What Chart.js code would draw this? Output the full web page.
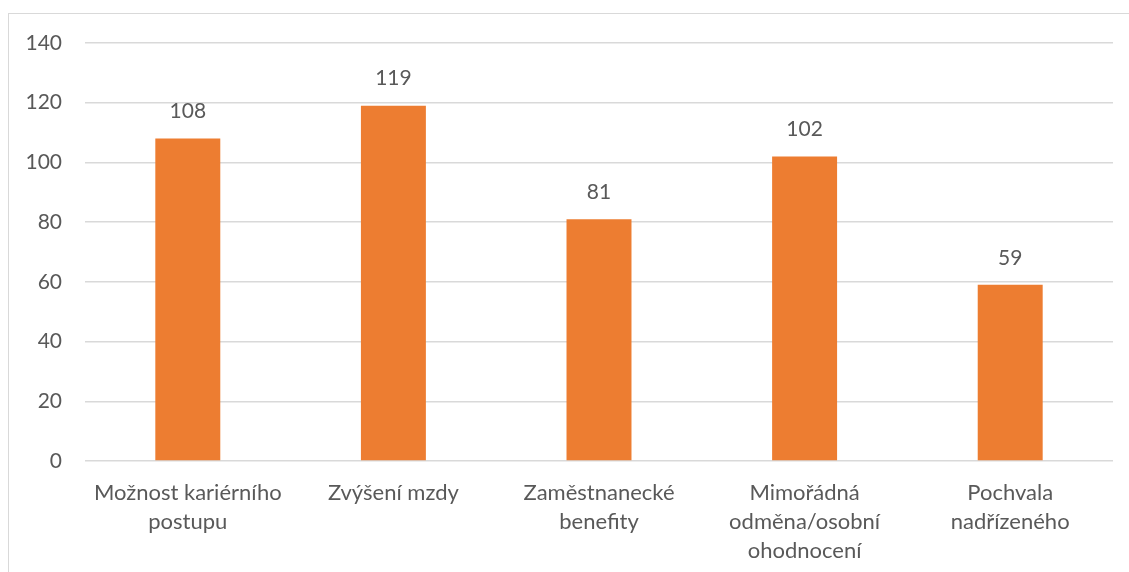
<!DOCTYPE html>
<html>
<head>
<meta charset="utf-8">
<script src="https://cdn.jsdelivr.net/npm/chart.js@4"></script>
<style>
  html, body { margin: 0; padding: 0; background: #fff; }
  #wrap { position: relative; width: 1129px; height: 572px; overflow: hidden; }
  #frame { position: absolute; left: 8px; top: 13px; width: 1140px; height: 600px;
           border-left: 1px solid #d9d9d9; border-top: 1px solid #d9d9d9; }
  canvas { position: absolute; left: 0; top: 0; }
</style>
</head>
<body>
<div id="wrap">
  <div id="frame"></div>
  <canvas id="chart" width="1129" height="572"></canvas>
</div>
<script>
// data
let categories = [
    ['Možnost kariérního', 'postupu'],
    ['Zvýšení mzdy'],
    ['Zaměstnanecké', 'benefity'],
    ['Mimořádná', 'odměna/osobní', 'ohodnocení'],
    ['Pochvala', 'nadřízeného']
]
let values = [108, 119, 81, 102, 59]

let textColor = '#595959'
let fontFamily = 'Lato, "Open Sans", sans-serif'

// value labels above bars
let valueLabels = {
    id: 'valueLabels',
    afterDatasetsDraw(chart) {
        let ctx = chart.ctx
        let meta = chart.getDatasetMeta(0)
        ctx.save()
        ctx.fillStyle = textColor
        ctx.font = '21px ' + fontFamily
        ctx.textAlign = 'center'
        ctx.textBaseline = 'middle'
        meta.data.forEach(function(bar, i) {
            ctx.fillText(values[i], bar.x, bar.y - 27)
        })
        ctx.restore()
    }
}

let context = document.querySelector('#chart').getContext('2d')
let chart = new Chart(context, {
    type: 'bar',
    data: {
        labels: categories,
        datasets: [{
            data: values,
            backgroundColor: '#ed7d31',
            categoryPercentage: 1,
            barPercentage: 0.316
        }]
    },
    options: {
        responsive: false,
        animation: false,
        layout: { padding: { left: 0, top: 43, right: 16, bottom: 0 } },
        plugins: {
            legend: { display: false },
            tooltip: { enabled: false }
        },
        scales: {
            x: {
                grid: { display: false },
                border: { display: false },
                ticks: {
                    color: textColor,
                    font: { family: fontFamily, size: 22, lineHeight: 1.3 },
                    padding: 10,
                    maxRotation: 0,
                    autoSkip: false
                },
                afterFit(scale) { scale.height = 111 }
            },
            y: {
                min: 0,
                max: 140,
                ticks: {
                    stepSize: 20,
                    color: textColor,
                    font: { family: fontFamily, size: 21 },
                    padding: 23
                },
                grid: { color: '#d9d9d9', lineWidth: 1.5, drawTicks: false },
                border: { display: false },
                afterFit(scale) { scale.width = 85 }
            }
        }
    },
    plugins: [valueLabels]
})
</script>
</body>
</html>
